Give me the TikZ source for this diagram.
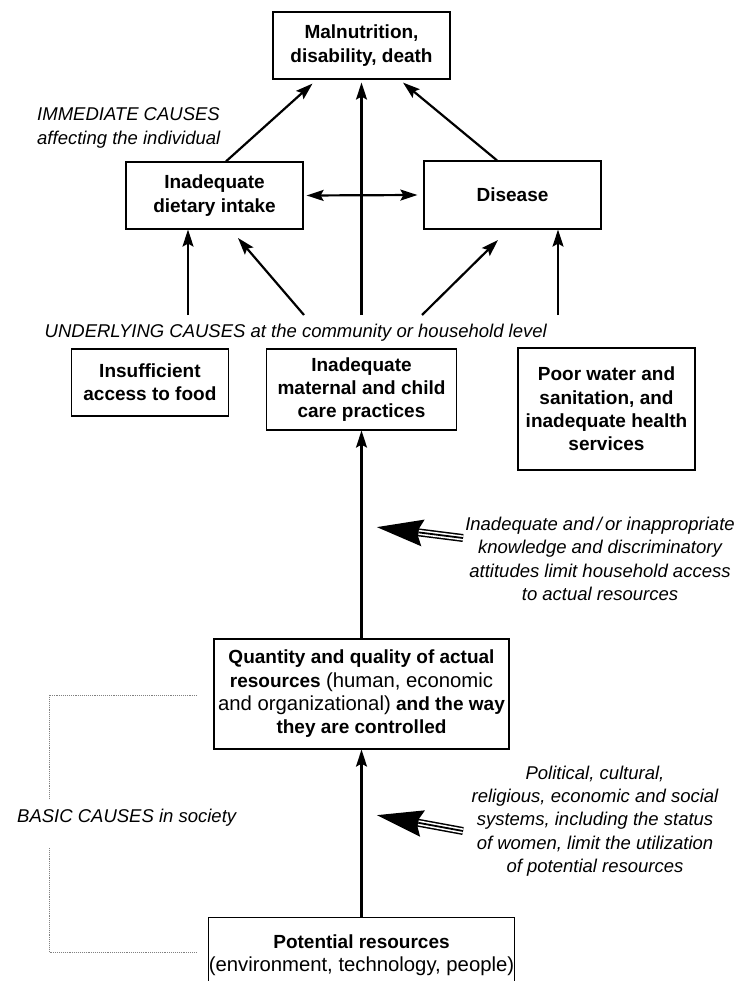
\documentclass[tikz,border=0pt]{standalone}
\usepackage{fontspec}
\setmainfont{Liberation Sans}
\usetikzlibrary{arrows.meta}
\newcommand\lite[1]{{\mdseries\fontsize{20.3}{23.3}\selectfont #1}}
\begin{document}
\begin{tikzpicture}[x=1pt,y=-1pt,>={Stealth[length=17pt,width=11pt,inset=3pt]},
  box/.style={draw,line width=1.2pt,align=center,inner sep=0pt,font=\fontsize{19}{23.3}\selectfont\bfseries},
  note/.style={inner sep=0pt,font=\fontsize{18.5}{23.3}\selectfont\itshape},
  link/.style={line width=2.2pt},
  fat/.style={line width=8pt,-{Stealth[length=46pt,width=25pt,inset=5pt]}},
  fatw/.style={line width=5pt,white,shorten >=43pt},
  fatm/.style={line width=1.8pt,shorten >=43pt}]
\useasboundingbox (0,0) rectangle (744,981);

\node[box,minimum width=177pt,minimum height=67pt] (mal) at (361.5,45.5) {Malnutrition,\\disability, death};
\node[box,minimum width=177pt,minimum height=67pt] (diet) at (214.5,195.5) {Inadequate\\dietary intake};
\node[box,minimum width=177pt,minimum height=68pt] (dis) at (512.5,195) {Disease};
\node[box,minimum width=157pt,minimum height=67pt,anchor=east] (food) at (229,382.5) {Insufficient\\access to food};
\node[box,minimum width=190pt,minimum height=81pt] (care) at (361.5,389.5) {Inadequate\\maternal and child\\care practices};
\node[box,minimum width=177pt,minimum height=122pt] (water) at (606.5,409) {Poor water and\\sanitation, and\\inadequate health\\services};
\node[box,minimum width=295pt,minimum height=110pt] (res) at (361.5,694) {Quantity and quality of actual\\resources \lite{(human, economic}\\\lite{and organizational)} and the way\\they are controlled};
\node[box,minimum width=305pt,minimum height=75pt,anchor=north] (pot) at (361.5,917) {Potential resources\\\lite{(environment, technology, people)}};

\node[note,align=left,anchor=west] (imm) at (37,128) {IMMEDIATE CAUSES\\affecting the individual};
\node[note,anchor=base east] (und) at (547,337) {UNDERLYING CAUSES at the community or household level};
\node[note,anchor=base west] (bas) at (17,822) {BASIC CAUSES in society};
\node[note,align=center] (know) at (600,559) {Inadequate and\,/\,or inappropriate\\knowledge and discriminatory\\attitudes limit household access\\to actual resources};
\node[note,align=center] (sys) at (595,821) {Political, cultural,\\religious, economic and social\\systems, including the status\\of women, limit the utilization\\of potential resources};

\coordinate (u1) at (188,315);
\coordinate (u2) at (304,315);
\coordinate (u3) at (361.5,315);
\coordinate (u4) at (422,315);
\coordinate (u5) at (558,315);

\draw[link,->] ([xshift=11.5pt]diet.north) -- ([xshift=-49pt,yshift=-4pt]mal.south);
\draw[link,->] ([xshift=-15.5pt]dis.north) -- ([xshift=41.5pt,yshift=-3pt]mal.south);
\draw[link,->] (u3) -- ([yshift=-3pt]mal.south);
\draw[link,<->] ([xshift=3pt]diet.east) -- ([xshift=-6pt]dis.west);
\draw[link,->] (u1) -- (u1 |- diet.south);
\draw[link,->] (u2) -- (238,238);
\draw[link,->] (u4) -- (498,240);
\draw[link,->] (u5) -- (u5 |- dis.south);
\draw[link,->] (res.north) -- (care.south);
\draw[link,->] (pot.north) -- (res.south);

\coordinate (k1) at (463,538);
\coordinate (k2) at (376,527);
\coordinate (p1) at (463,831);
\coordinate (p2) at (376,815);
\draw[fat] (k1) -- (k2);
\draw[fatw] (k1) -- (k2);
\draw[fatm] (k1) -- (k2);
\draw[fat] (p1) -- (p2);
\draw[fatw] (p1) -- (p2);
\draw[fatm] (p1) -- (p2);

\draw[densely dotted,gray,line width=0.9pt] (197,695) -| (49,799);
\draw[densely dotted,gray,line width=0.9pt] (49,848) |- (197,952);
\end{tikzpicture}
\end{document}
